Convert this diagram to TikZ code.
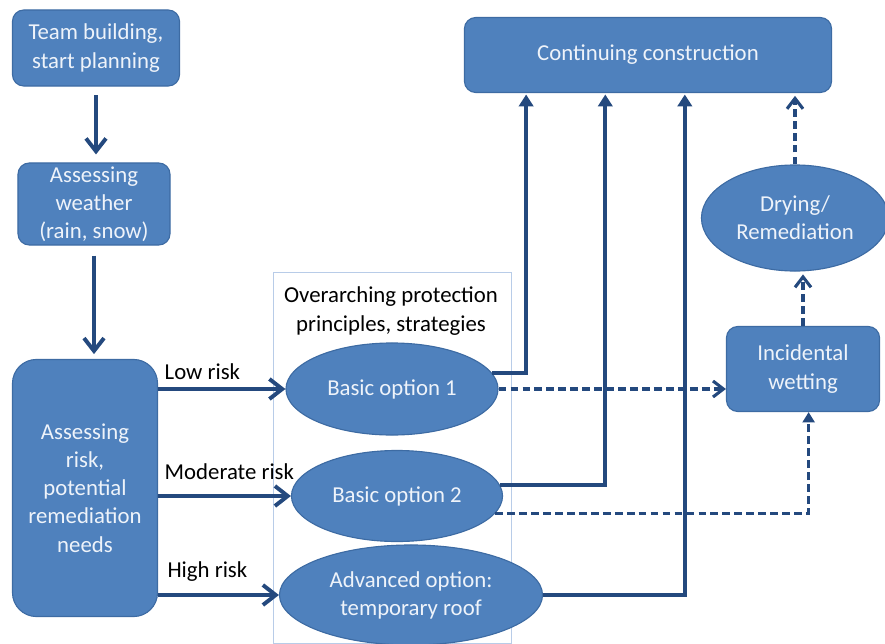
\documentclass[tikz,border=0pt]{standalone}
\usepackage{fontspec}
\setmainfont{Carlito}
\usetikzlibrary{arrows.meta,positioning,calc,shapes.geometric}
\definecolor{boxfill}{HTML}{4F81BD}
\definecolor{boxline}{HTML}{3D6BA3}
\definecolor{arrcol}{HTML}{24497E}
\definecolor{framecol}{HTML}{B8CCE8}
\definecolor{txtcol}{HTML}{EEF3FA}

\begin{document}
\begin{tikzpicture}[x=0.025cm,y=-0.025cm,
  font=\fontsize{16.2}{20}\selectfont,
  box/.style={rectangle,rounded corners=8pt,draw=boxline,line width=0.8pt,
              fill=boxfill,text=txtcol,align=center,inner sep=2pt},
  oval/.style={ellipse,draw=boxline,line width=0.8pt,fill=boxfill,
               text=txtcol,align=center,inner sep=0pt},
  arr/.style={-{Straight Barb[length=3.2mm,width=5mm]},line width=2.8pt,arrcol},
  up/.style={-{Triangle[length=3mm,width=3.6mm]},line width=2.6pt,arrcol},
  wet/.style={dash pattern=on 5.5pt off 3pt,line width=2.2pt,arrcol},
  risklbl/.style={pos=0,anchor=south west,text=black}
]
  \useasboundingbox (0,0) rectangle (885,643);
  % frame round the protection options
  \draw[framecol,line width=0.7pt] (273,272) rectangle (511,643);
  \node[align=center] (head) at (391,311) {Overarching protection\\principles, strategies};

  % Assessment chain
  \node[box,minimum width=4.175cm,minimum height=1.9cm] (team) at (96,48) {Team building,\\start planning};
  \node[box,minimum width=3.8cm,minimum height=2.05cm] (weather) at (94,204) {Assessing\\weather\\(rain, snow)};
  \node[box,rounded corners=17pt,minimum width=3.625cm,minimum height=6.425cm] (risk) at (85,488)
       {Assessing\\risk,\\potential\\remediation\\needs};

  % Options
  \node[oval,minimum width=5.3cm,minimum height=2.3cm] (bo1) at (392,389) {Basic option 1};
  \node[oval,minimum width=5.275cm,minimum height=2.275cm] (bo2) at (397,496) {Basic option 2};
  \node[oval,minimum width=6.575cm,minimum height=2.5cm] (adv) at (411,595) {Advanced option:\\temporary roof};

  % Outcomes
  \node[box,minimum width=9.175cm,minimum height=1.875cm] (cont) at (648,55) {Continuing construction};
  \node[box,minimum width=3.825cm,minimum height=2.125cm] (inc) at (803,369) {Incidental\\wetting};
  \node[oval,minimum width=4.675cm,minimum height=2.65cm] (dry) at (795,218) {Drying/\\Remediation};

  \coordinate (c1) at ($(cont.south west)!0.169!(cont.south east)$);
  \coordinate (c2) at ($(cont.south west)!0.384!(cont.south east)$);
  \coordinate (c3) at ($(cont.south west)!0.6!(cont.south east)$);

  \draw[arr,shorten <=0.22cm,shorten >=0.2cm] (team.south) -- (team.south |- weather.north);
  \draw[arr,shorten <=0.25cm,shorten >=0.12cm] (weather.south) -- (weather.south |- risk.north);

  \draw[arr] (risk.east |- bo1.west) -- node[risklbl,yshift=2pt] {Low risk} (bo1.west);
  \draw[arr] (risk.east |- bo2.west) -- node[risklbl,yshift=7pt] {Moderate risk} (bo2.west);
  \draw[arr] (risk.east |- adv.west) -- node[risklbl,xshift=2pt,yshift=5pt] {High risk} (adv.west);

  \draw[up,shorten >=1pt] (bo1.9) -| (c1);
  \draw[up,shorten >=1pt] (bo2.6) -| (c2);
  \draw[up,shorten >=1pt] (adv.east) -| (c3);

  \draw[wet,-{Straight Barb[length=2.6mm,width=4mm]}] (bo1.east) -- (bo1.east -| inc.west);
  \draw[wet,-{Triangle[length=2.6mm,width=3mm]}] (bo2.-10) -| ([xshift=4pt]inc.south);
  \draw[wet,-{Straight Barb[length=2.6mm,width=4mm]},shorten >=2pt] (inc.north) -- (inc.north |- dry.south);
  \draw[wet,-{Straight Barb[length=2.6mm,width=4mm]},shorten >=2pt] (dry.north) -- (dry.north |- cont.south);
\end{tikzpicture}
\end{document}
